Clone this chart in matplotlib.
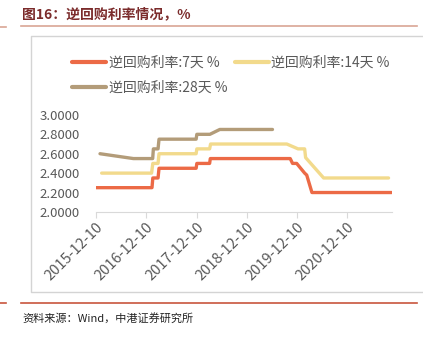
import matplotlib.pyplot as plt
import matplotlib.dates as mdates
import numpy as np
import pandas as pd
from matplotlib.lines import Line2D

plt.rcParams['font.family'] = ['Noto Sans CJK SC', 'DejaVu Sans']

# 逆回购利率 7天
d7 = ['2015-12-10', '2017-01-20', '2017-01-26', '2017-03-05', '2017-03-12',
      '2017-12-07', '2017-12-12', '2018-03-15', '2018-03-20', '2019-10-22',
      '2019-11-08', '2019-12-08', '2020-02-04', '2020-02-19', '2020-03-28',
      '2021-10-28']
v7 = [2.25, 2.25, 2.35, 2.35, 2.45, 2.45, 2.50, 2.50, 2.55, 2.55,
      2.50, 2.50, 2.40, 2.38, 2.20, 2.20]

# 逆回购利率 14天
d14 = ['2016-01-20', '2017-01-17', '2017-01-26', '2017-03-05', '2017-03-12',
       '2017-12-07', '2017-12-12', '2018-03-15', '2018-03-22', '2019-09-27',
       '2019-12-18', '2020-02-04', '2020-02-11', '2020-06-21', '2021-10-06']
v14 = [2.40, 2.40, 2.50, 2.50, 2.60, 2.60, 2.65, 2.65, 2.70, 2.70,
       2.65, 2.65, 2.56, 2.35, 2.35]

# 逆回购利率 28天
d28 = ['2016-01-08', '2016-09-07', '2017-01-25', '2017-01-30', '2017-03-05',
       '2017-03-12', '2017-12-07', '2017-12-12', '2018-03-17', '2018-05-28',
       '2019-06-15']
v28 = [2.60, 2.55, 2.55, 2.65, 2.65, 2.75, 2.75, 2.80, 2.80, 2.85, 2.85]

labels = ['逆回购利率:7天 %', '逆回购利率:14天 %', '逆回购利率:28天 %']
colors = ['#EC6A46', '#F2DA8C', '#B39C79']
ticks = ['2015-12-10', '2016-12-10', '2017-12-10', '2018-12-10', '2019-12-10', '2020-12-10']
yticks = [2.0, 2.2, 2.4, 2.6, 2.8, 3.0]

fig = plt.figure(figsize=(4.23, 3.38), dpi=100)
ax = fig.add_axes([0.227, 0.373, 0.700, 0.287])

h = []
for d, v, lab, c in zip([d7, d14, d28], [v7, v14, v28], labels, colors):
    ln, = ax.plot(pd.to_datetime(d), v, color=c, lw=2.4, label=lab, solid_capstyle='round')
    h.append(ln)

ax.set_xlim(pd.Timestamp('2015-12-10'), pd.Timestamp('2021-11-01'))
ax.set_ylim(2.0, 3.0)
ax.set_yticks(yticks)
ax.set_yticklabels(['%.4f' % y for y in yticks], fontsize=9.5, color='#595959')
ax.set_xticks(pd.to_datetime(ticks))
ax.set_xticklabels(ticks, rotation=45, ha='right', va='top', rotation_mode='anchor',
                   fontsize=10.5, color='#595959')
ax.tick_params(axis='y', length=0, pad=12)
ax.tick_params(axis='x', length=4, color='#d9d9d9', width=0.8, pad=2)
for s in ['top', 'right', 'left']:
    ax.spines[s].set_visible(False)
ax.spines['bottom'].set_color('#d9d9d9')
ax.spines['bottom'].set_linewidth(0.8)

# legend, row-wise order
leg = fig.legend([h[0], h[2], h[1]], [labels[0], labels[2], labels[1]], ncol=2,
                 loc='upper left', bbox_to_anchor=(0.158, 0.852), frameon=False,
                 fontsize=10, handlelength=2.4, handletextpad=0.2, columnspacing=0.6,
                 labelspacing=0.8, borderaxespad=0)
for t in leg.get_texts():
    t.set_color('#595959')
for l in leg.get_lines():
    l.set_linewidth(3)

# light frame around the chart (left, top, bottom)
fx0, fx1 = 30.5 / 423, 1.0
fy0, fy1 = 1 - 291.5 / 338, 1 - 35.5 / 338
fig.add_artist(Line2D([fx1, fx0, fx0, fx1], [fy1, fy1, fy0, fy0], color='#d4d4d4', lw=1.0))

# title and rules
fig.text(22 / 423, 1 - 14 / 338, '图16：逆回购利率情况，%', fontsize=10, fontweight='bold',
         color='#7B2B2B', va='center', ha='left')
fig.add_artist(Line2D([21 / 423, 417 / 423], [1 - 26 / 338] * 2, color='#D9A595', lw=1.2))
fig.add_artist(Line2D([0, 6 / 423], [1 - 27 / 338] * 2, color='#D9A595', lw=1.2))
fig.add_artist(Line2D([21 / 423, 417 / 423], [1 - 303 / 338] * 2, color='#C8553D', lw=1.2))
fig.add_artist(Line2D([0, 6 / 423], [1 - 303 / 338] * 2, color='#C8553D', lw=1.2))
fig.text(22 / 423, 1 - 318 / 338, '资料来源：Wind，中港证券研究所', fontsize=8,
         style='italic', color='#222222', va='center', ha='left')

plt.savefig('out.png', dpi=100)
